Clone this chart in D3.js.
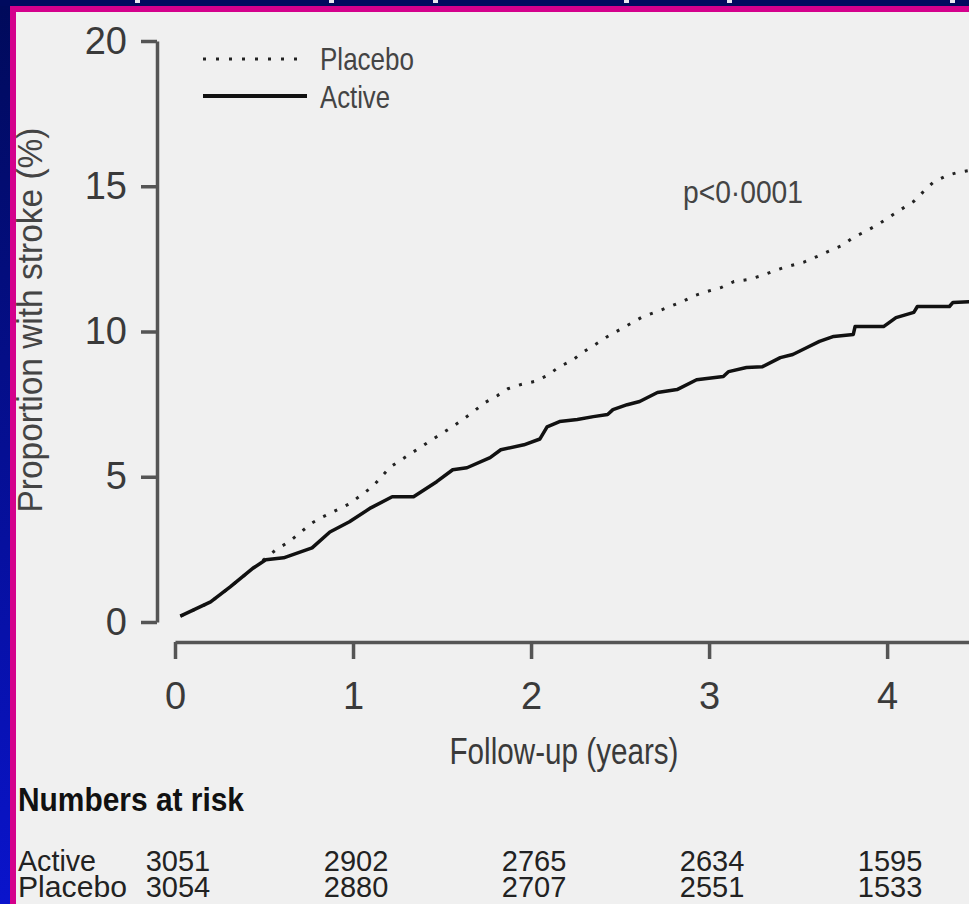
<!DOCTYPE html>
<html>
<head>
<meta charset="utf-8">
<script src="https://cdn.jsdelivr.net/npm/d3@7"></script>
<style>
  body { margin: 0; background: #000a5e; overflow: hidden; }
  svg { display: block; }
  text { font-family: "Liberation Sans", Arial, sans-serif; }
</style>
</head>
<body>
<div id="app"></div>
<script>
// data
const yearTicks = [0, 1, 2, 3, 4];
const pctTicks = [0, 5, 10, 15, 20];

const activeYears = [0.03, 0.2, 0.31, 0.44, 0.51, 0.61, 0.69, 0.77, 0.87, 0.98, 1.1, 1.22, 1.34, 1.47, 1.56, 1.64, 1.77, 1.83, 1.96, 2.05, 2.09, 2.16, 2.26, 2.35, 2.43, 2.46, 2.54, 2.61, 2.71, 2.82, 2.93, 3.08, 3.11, 3.21, 3.3, 3.4, 3.47, 3.55, 3.62, 3.7, 3.81, 3.82, 3.98, 4.05, 4.15, 4.17, 4.35, 4.37, 4.47];
const activePct = [0.2, 0.69, 1.21, 1.86, 2.14, 2.21, 2.38, 2.55, 3.1, 3.45, 3.93, 4.31, 4.31, 4.83, 5.24, 5.31, 5.66, 5.93, 6.1, 6.3, 6.72, 6.9, 6.97, 7.07, 7.14, 7.31, 7.48, 7.59, 7.9, 8.0, 8.34, 8.45, 8.62, 8.76, 8.79, 9.1, 9.21, 9.45, 9.66, 9.83, 9.9, 10.17, 10.17, 10.48, 10.66, 10.86, 10.86, 11.0, 11.03];

const placeboYears = [0.03, 0.2, 0.31, 0.44, 0.51, 0.57, 0.64, 0.77, 0.83, 0.98, 1.11, 1.21, 1.34, 1.47, 1.55, 1.6, 1.67, 1.74, 1.81, 1.87, 1.94, 2.02, 2.09, 2.16, 2.23, 2.29, 2.36, 2.43, 2.5, 2.57, 2.63, 2.71, 2.78, 2.85, 2.92, 2.99, 3.07, 3.14, 3.22, 3.3, 3.37, 3.44, 3.53, 3.61, 3.67, 3.75, 3.81, 3.88, 3.95, 4.02, 4.08, 4.15, 4.2, 4.26, 4.34, 4.4, 4.47];
const placeboPct = [0.2, 0.69, 1.21, 1.86, 2.2, 2.5, 2.76, 3.41, 3.62, 4.07, 4.66, 5.34, 5.86, 6.38, 6.69, 6.9, 7.21, 7.55, 7.79, 8.03, 8.17, 8.28, 8.48, 8.79, 9.0, 9.28, 9.55, 9.83, 10.07, 10.31, 10.52, 10.69, 10.86, 11.03, 11.24, 11.38, 11.52, 11.72, 11.79, 11.93, 12.1, 12.24, 12.38, 12.59, 12.76, 12.97, 13.24, 13.45, 13.69, 13.97, 14.21, 14.48, 14.79, 15.14, 15.38, 15.48, 15.55];

const riskRows = ["Active", "Placebo"];
const riskActive = [3051, 2902, 2765, 2634, 1595];
const riskPlacebo = [3054, 2880, 2707, 2551, 1533];

const w = 969;
const h = 904;

const svg = d3.select("#app").append("svg").attr("width", w).attr("height", h);

//frame: navy band, magenta rule, grey panel
const grad = svg.append("defs").append("linearGradient")
  .attr("id", "bluefade").attr("x1", 0).attr("y1", 0).attr("x2", 0).attr("y2", 1);
grad.append("stop").attr("offset", "0%").attr("stop-color", "#000a5a");
grad.append("stop").attr("offset", "100%").attr("stop-color", "#0a14cc");

svg.append("rect").attr("width", w).attr("height", h).attr("fill", "url(#bluefade)");
svg.append("rect").attr("x", 0).attr("y", 0).attr("width", w).attr("height", 6).attr("fill", "#000a5e");
svg.append("rect").attr("x", 10).attr("y", 6).attr("width", w - 10).attr("height", h - 6).attr("fill", "#d4008c");
svg.append("rect").attr("x", 16).attr("y", 12).attr("width", w - 16).attr("height", h - 12).attr("fill", "#f0f0f0");

// bits of cut-off white text in the top band
svg.selectAll(".topmark")
  .data([135, 329, 433, 624, 727, 950])
  .enter()
  .append("rect")
  .attr("x", (d) => d)
  .attr("y", 0)
  .attr("width", 5)
  .attr("height", 3)
  .attr("fill", "#e8e8f0");

//scales
const scaleX = d3.scaleLinear().domain([0, 4.46]).range([175, 969]);
const scaleY = d3.scaleLinear().domain([0, 20]).range([622, 41]);

//y axis
const yAxis = d3.axisLeft(scaleY).tickValues(pctTicks).tickFormat(d3.format("d"))
  .tickSize(16).tickSizeOuter(0).tickPadding(14);
const gy = svg.append("g").attr("transform", "translate(157,0)").call(yAxis);

//x axis
const xAxis = d3.axisBottom(scaleX).tickValues(yearTicks).tickFormat(d3.format("d"))
  .tickSize(17).tickSizeOuter(0).tickPadding(23);
const gx = svg.append("g").attr("transform", "translate(0,642)").call(xAxis);

[gy, gx].forEach((g) => {
  g.select(".domain").attr("stroke", "#555").attr("stroke-width", 3.5);
  g.selectAll(".tick line").attr("stroke", "#555").attr("stroke-width", 3.5);
  g.selectAll(".tick text")
    .attr("fill", "#3a3a3a")
    .style("font-size", "38px");
});

//axis titles
svg.append("text")
  .attr("transform", "translate(42,320) rotate(-90)")
  .attr("text-anchor", "middle")
  .attr("textLength", 385)
  .attr("lengthAdjust", "spacingAndGlyphs")
  .attr("fill", "#444")
  .style("font-size", "35px")
  .text("Proportion with stroke (%)");

svg.append("text")
  .attr("x", 564)
  .attr("y", 764)
  .attr("text-anchor", "middle")
  .attr("textLength", 229)
  .attr("lengthAdjust", "spacingAndGlyphs")
  .attr("fill", "#3a3a3a")
  .style("font-size", "37px")
  .text("Follow-up (years)");

svg.append("text")
  .attr("x", 683)
  .attr("y", 203)
  .attr("textLength", 120)
  .attr("lengthAdjust", "spacingAndGlyphs")
  .attr("fill", "#444")
  .style("font-size", "32px")
  .text("p<0·0001");

//curves
const line = d3.line().x((d) => scaleX(d[0])).y((d) => scaleY(d[1]));
const activeData = activeYears.map((t, i) => [t, activePct[i]]);
const placeboData = placeboYears.map((t, i) => [t, placeboPct[i]]);

svg.append("path")
  .datum(placeboData)
  .attr("d", line)
  .attr("fill", "none")
  .attr("stroke", "#222")
  .attr("stroke-width", 3)
  .attr("stroke-dasharray", "3 9.5");

svg.append("path")
  .datum(activeData)
  .attr("d", line)
  .attr("fill", "none")
  .attr("stroke", "#111")
  .attr("stroke-width", 3.5)
  .attr("stroke-linejoin", "round");

//legend
svg.append("line")
  .attr("x1", 203).attr("x2", 307).attr("y1", 59).attr("y2", 59)
  .attr("stroke", "#222").attr("stroke-width", 3).attr("stroke-dasharray", "3 10");
svg.append("line")
  .attr("x1", 203).attr("x2", 307).attr("y1", 96).attr("y2", 96)
  .attr("stroke", "#111").attr("stroke-width", 4);

svg.append("text").attr("x", 320).attr("y", 70)
  .attr("textLength", 94).attr("lengthAdjust", "spacingAndGlyphs")
  .attr("fill", "#444").style("font-size", "32px").text("Placebo");
svg.append("text").attr("x", 320).attr("y", 108)
  .attr("textLength", 70).attr("lengthAdjust", "spacingAndGlyphs")
  .attr("fill", "#444").style("font-size", "32px").text("Active");

//numbers at risk
svg.append("text")
  .attr("x", 18).attr("y", 811)
  .attr("textLength", 226).attr("lengthAdjust", "spacingAndGlyphs")
  .attr("fill", "#111").style("font-size", "33px").style("font-weight", "bold")
  .text("Numbers at risk");

const rowY = [871, 897];
const rowW = [78, 109];
[riskActive, riskPlacebo].forEach((vals, r) => {
  svg.append("text")
    .attr("x", 18).attr("y", rowY[r])
    .attr("textLength", rowW[r]).attr("lengthAdjust", "spacingAndGlyphs")
    .attr("fill", "#222").style("font-size", "29px")
    .text(riskRows[r]);
  svg.selectAll(".risk" + r)
    .data(vals)
    .enter()
    .append("text")
    .attr("class", "risk" + r)
    .attr("x", (d, i) => scaleX(yearTicks[i]) + 3)
    .attr("y", rowY[r])
    .attr("text-anchor", "middle")
    .attr("fill", "#222")
    .style("font-size", "29px")
    .text((d) => d);
});
</script>
</body>
</html>
